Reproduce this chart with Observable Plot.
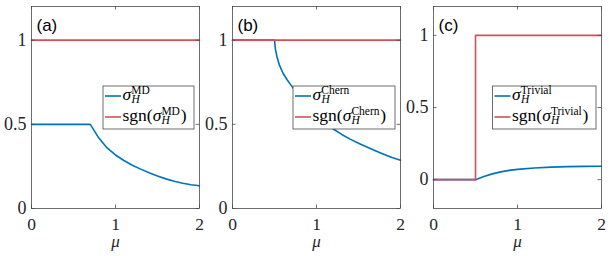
<!DOCTYPE html>
<html>
<head>
<meta charset="utf-8">
<script src="https://cdn.jsdelivr.net/npm/d3@7"></script>
<script src="https://cdn.jsdelivr.net/npm/@observablehq/plot@0.6"></script>
<style>
  html, body { margin: 0; padding: 0; background: white; }
  #c { position: relative; width: 609px; height: 256px; overflow: hidden; }
  #c svg { position: absolute; top: 0; }
  #c svg text { font-family: "Liberation Serif", "Times New Roman", serif; }
  #c svg g.tag text { font-family: "Liberation Sans", Arial, sans-serif; }
</style>
</head>
<body>
<div id="c"></div>
<script>
// ---------- data ----------
const panelTags = ["(a)", "(b)", "(c)"];
const supLabels = ["MD", "Chern", "Trivial"];
const xTicks = [0, 1, 2];
const yTicksAB = [0, 0.5, 1];
const yTicksC = [0, 0.5, 1];

// (a) sigma_H^MD
const muA = [0, 0.7, 0.75, 0.8, 0.9, 1.0, 1.1, 1.2, 1.3, 1.4, 1.5, 1.6, 1.7, 1.8, 1.9, 2.0];
const sigmaMD = [0.5, 0.5, 0.46, 0.42, 0.36, 0.318, 0.285, 0.257, 0.234, 0.212, 0.193, 0.176, 0.162, 0.15, 0.141, 0.135];
const sgnMu_A = [0, 2];
const sgnMD = [1, 1];

// (b) sigma_H^Chern
const muB = [0, 0.5, 0.51, 0.53, 0.56, 0.6, 0.65, 0.7, 0.8, 0.9, 1.0, 1.1, 1.2, 1.3, 1.4, 1.5, 1.6, 1.7, 1.8, 1.9, 2.0];
const sigmaChern = [1, 1, 0.95, 0.9, 0.85, 0.805, 0.765, 0.73, 0.66, 0.605, 0.556, 0.512, 0.472, 0.44, 0.412, 0.388, 0.365, 0.343, 0.322, 0.303, 0.286];
const sgnMu_B = [0, 2];
const sgnChern = [1, 1];

// (c) sigma_H^Trivial
const muC = [0, 0.5, 0.6, 0.7, 0.8, 0.9, 1.0, 1.2, 1.4, 1.6, 1.8, 2.0];
const sigmaTrivial = [0, 0, 0.022, 0.04, 0.054, 0.064, 0.071, 0.081, 0.087, 0.09, 0.092, 0.093];
const sgnMu_C = [0, 0.5, 0.5, 2];
const sgnTrivial = [0, 0, 1, 1];

// ---------- style ----------
const BLUE = "#0072BD";
const RED = "#d2505c";
const AX = "#4a4a4a";
const TXT = "#262626";

const panels = [
  {left: 0,   width: 203, ml: 31, mr: 4, ydom: [0, 1.2],    yticks: yTicksAB, mu: muA, blue: sigmaMD, redMu: sgnMu_A, red: sgnMD,
   box: {x: 103, y: 86, w: 91, h: 43}},
  {left: 203, width: 203, ml: 29, mr: 6, ydom: [0, 1.2],    yticks: yTicksAB, mu: muB, blue: sigmaChern, redMu: sgnMu_B, red: sgnChern,
   box: {x: 293, y: 86, w: 102, h: 43}},
  {left: 406, width: 203, ml: 27, mr: 8, ydom: [-0.2, 1.2], yticks: yTicksC, mu: muC, blue: sigmaTrivial, redMu: sgnMu_C, red: sgnTrivial,
   box: {x: 492.5, y: 86, w: 103.5, h: 43}}
];

const container = document.getElementById("c");

function drawLegend(svg, box, sup) {
  const g = d3.select(svg).append("g").attr("fill", "black").attr("text-anchor", "start");
  g.append("rect").attr("x", box.x).attr("y", box.y).attr("width", box.w).attr("height", box.h)
    .attr("fill", "white").attr("stroke", AX).attr("stroke-width", 0.8);
  const rows = [{color: BLUE, pre: "", post: ""}, {color: RED, pre: "sgn(", post: ")"}];
  rows.forEach((r, i) => {
    const base = box.y + 13.5 + i * 21;
    g.append("line").attr("x1", box.x + 2).attr("x2", box.x + 18).attr("y1", base - 3.5).attr("y2", base - 3.5)
      .attr("stroke", r.color).attr("stroke-width", 1.6);
    const t = g.append("text").attr("x", box.x + 19.5).attr("y", base).attr("font-size", 17.5).attr("text-anchor", "start");
    if (r.pre) t.append("tspan").text(r.pre);
    t.append("tspan").attr("font-style", "italic").text("σ");
    t.append("tspan").attr("font-style", "italic").attr("font-size", 11.5).attr("dy", 3.8).attr("dx", 0.3).text("H");
    t.append("tspan").attr("font-size", 11.5).attr("dx", -8.5).attr("dy", -9.8).text(sup);
    if (r.post) t.append("tspan").attr("font-size", 17.5).attr("dy", 6).attr("dx", 0.8).text(r.post);
  });
}

panels.forEach((cfg, k) => {
  const iw = cfg.width - cfg.ml - cfg.mr;
  const ih = 256 - 6 - 48;
  const blue = cfg.mu.map((m, i) => ({mu: m, v: cfg.blue[i]}));
  const red = cfg.redMu.map((m, i) => ({mu: m, v: cfg.red[i]}));
  const svg = Plot.plot({
    width: cfg.width, height: 256,
    marginLeft: cfg.ml, marginRight: cfg.mr, marginTop: 6, marginBottom: 48,
    x: {domain: [0, 2]},
    y: {domain: cfg.ydom},
    style: {background: "transparent", overflow: "visible", color: "black"},
    marks: [
      Plot.line(blue, {x: "mu", y: "v", stroke: BLUE, strokeWidth: 1.6}),
      Plot.line(red, {x: "mu", y: "v", stroke: RED, strokeWidth: 1.6}),
      Plot.frame({stroke: AX, strokeWidth: 0.8}),
      Plot.tickY(cfg.yticks, {y: d => d, stroke: AX, strokeWidth: 0.8, insetRight: iw - 3.5}),
      Plot.tickY(cfg.yticks, {y: d => d, stroke: AX, strokeWidth: 0.8, insetLeft: iw - 3.5}),
      Plot.tickX(xTicks, {x: d => d, stroke: AX, strokeWidth: 0.8, insetTop: ih - 3.5}),
      Plot.tickX(xTicks, {x: d => d, stroke: AX, strokeWidth: 0.8, insetBottom: ih - 3.5}),
      Plot.axisX({ticks: xTicks, tickSize: 0, tickPadding: 9, fontSize: 17.5, label: null, tickFormat: d => String(d), fill: TXT}),
      Plot.axisY({ticks: cfg.yticks, tickSize: 0, tickPadding: 5, fontSize: 18, label: null, tickFormat: d => String(d), fill: TXT}),
      Plot.text(["μ"], {text: d => d, frameAnchor: "bottom", dy: 38, fontStyle: "italic", fontSize: 17, fill: TXT}),
      Plot.text([panelTags[k]], {text: d => d, frameAnchor: "top-left", dx: 5, dy: 12, fontSize: 17, fill: "black"})
    ]
  });
  const groups = svg.querySelectorAll("g[aria-label='text']");
  if (groups.length) groups[groups.length - 1].classList.add("tag");
  svg.style.left = cfg.left + "px";
  container.appendChild(svg);
  const b = cfg.box;
  drawLegend(svg, {x: b.x - cfg.left, y: b.y, w: b.w, h: b.h}, supLabels[k]);
});
</script>
</body>
</html>
